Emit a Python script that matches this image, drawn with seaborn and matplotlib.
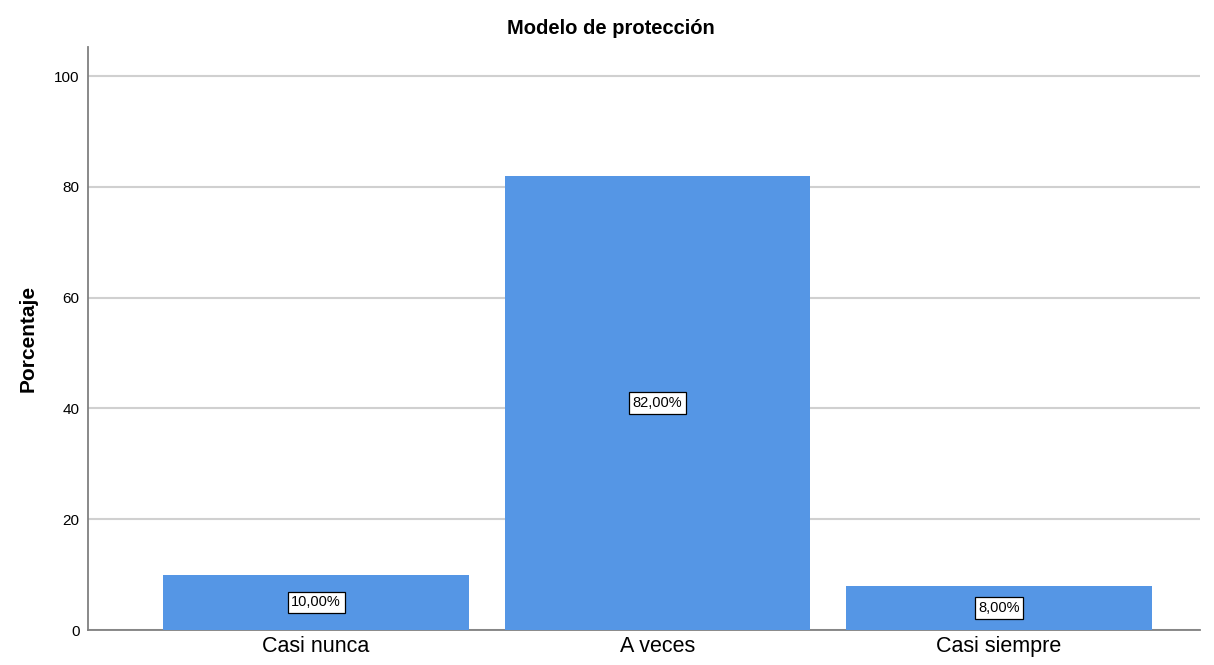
import matplotlib
matplotlib.use("Agg")
import matplotlib.pyplot as plt
import seaborn as sns
import pandas as pd

categorias = ["Casi nunca", "A veces", "Casi siempre"]
porcentajes = [10.0, 82.0, 8.0]
etiquetas = ["10,00%", "82,00%", "8,00%"]
y_ticks = [0, 20, 40, 60, 80, 100]

sns.set_style("white")
plt.rcParams["font.family"] = ["Liberation Sans", "DejaVu Sans"]
plt.rcParams["text.color"] = "black"
plt.rcParams["xtick.color"] = "black"
plt.rcParams["ytick.color"] = "black"
plt.rcParams["axes.labelcolor"] = "black"

df = pd.DataFrame({"Categoria": categorias, "Porcentaje": porcentajes})

fig = plt.figure(figsize=(12.14, 6.65), dpi=100)
ax = fig.add_axes([0.0725, 0.0526, 0.916, 0.8764])

sns.barplot(data=df, x="Categoria", y="Porcentaje", color="#5596e5",
            saturation=1, width=0.896, linewidth=0, ax=ax, zorder=3)

for i, (v, lab) in enumerate(zip(porcentajes, etiquetas)):
    ax.text(i, v / 2, lab, ha="center", va="center", fontsize=10.5, zorder=5,
            bbox=dict(boxstyle="square,pad=0.25", fc="white", ec="black", lw=0.9))

ax.set_ylim(0, 105.2)
ax.set_xlim(-0.668, 2.589)
ax.set_yticks(y_ticks)
ax.yaxis.grid(True, color="#d0d0d0", lw=1.5, zorder=0)
ax.tick_params(axis="y", labelsize=11, length=0, pad=6)
ax.tick_params(axis="x", labelsize=15.5, length=0, pad=4)

for s in ["top", "right"]:
    ax.spines[s].set_visible(False)
for s in ["left", "bottom"]:
    ax.spines[s].set_color("#808080")
    ax.spines[s].set_linewidth(1.3)

ax.set_xlabel("")
ax.set_ylabel("Porcentaje", fontsize=15, fontweight="bold", labelpad=12)
fig.text(0.503, 0.957, "Modelo de protección", ha="center", va="center",
         fontsize=14.5, fontweight="bold")

fig.savefig("out.png", dpi=100)
